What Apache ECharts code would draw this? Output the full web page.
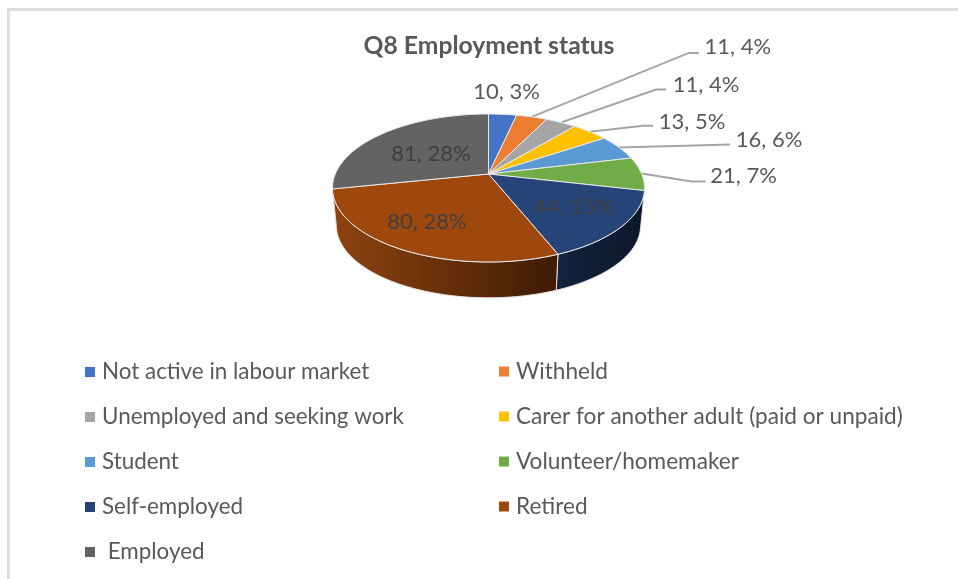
<!DOCTYPE html>
<html><head><meta charset="utf-8">
<style>html,body{margin:0;padding:0;background:#fff}#c{width:958px;height:579px}</style>
<script src="https://cdn.jsdelivr.net/npm/echarts@6/dist/echarts.min.js"></script>
</head><body><div id="c"></div>
<script>
const categories = ['Not active in labour market','Withheld','Unemployed and seeking work','Carer for another adult (paid or unpaid)','Student','Volunteer/homemaker','Self-employed','Retired',' Employed'];
const values = [10,11,11,13,16,21,44,80,81];
const colors = ['#4472C4','#ED7D31','#A5A5A5','#FFC000','#5B9BD5','#70AD47','#264478','#9E480E','#636363'];
const sideStops = [null,null,null,null,null,null,['#14233f','#0b1729'],['#8f4310','#3e1b04'],null];
// label offsets measured from each slice's rim midpoint; [dx,dy,elbowDx,elbowDy,endDx] (leader only if elbow given)
const labelOffsets = [
  [4,-22],
  [206,-70,157,-64,167],
  [145,-38,95,-33,105],
  [102,-10,53,-6,63],
  [150,-8,111,-3,111],
  [102,2,50,8,64],
  [-38,-35],
  [-5,-15],
  [50,-5]
];
const innerLabels = {6:[574,207],7:[427,222],8:[431,154]};

const total = values.reduce((a,b)=>a+b,0);
const CX=488.5, CY=174, R=153.2, A=71.35, K=0.189, DEPTH=38, S=0.975;
const TEXT='#595959', FONT='Lato';
function proj(deg, lower){
  const t=deg*Math.PI/180, u=Math.sin(t), v=-Math.cos(t), d=1-K*v;
  const x=R*u/d, y=A*v/d;
  return lower ? [CX+x*S, CY+DEPTH+y*S] : [CX+x, CY+y];
}
function arc(a0,a1,lower){
  const n=Math.max(2,Math.ceil(Math.abs(a1-a0)/1.5)), pts=[];
  for(let i=0;i<=n;i++) pts.push(proj(a0+(a1-a0)*i/n,lower));
  return pts;
}
let cum=0;
const starts=values.map(v=>{const s=cum;cum+=v;return s/total*360;});
function renderSlice(idx){
  return function(params,api){
    const v=api.value(0), a0=starts[idx], a1=a0+v/total*360, mid=(a0+a1)/2;
    const children=[];
    const top=[[CX,CY]].concat(arc(a0,a1,false));
    const side=arc(a0,a1,false).concat(arc(a1,a0,true));
    const st=sideStops[idx];
    const fill= st ? new echarts.graphic.LinearGradient(0,0,1,0,[{offset:0,color:st[0]},{offset:1,color:st[1]}]) : colors[idx];
    if(st){
      children.push({type:'polygon',z2:1,shape:{points:side},style:{fill:fill,stroke:'#e4e0dc',lineWidth:1}});
    }
    children.push({type:'polygon',z2:5,shape:{points:top},style:{fill:colors[idx],stroke:'#e9e9e9',lineWidth:1,lineJoin:'round'}});
    const o=labelOffsets[idx], rim=proj(mid,false);
    const label = v+', '+Math.round(v/total*100)+'%';
    const inner=innerLabels[idx];
    const lx= inner?inner[0]:rim[0]+o[0], ly= inner?inner[1]:rim[1]+o[1];
    if(o.length>2){
      children.push({type:'polyline',z2:3,shape:{points:[rim,[rim[0]+o[2],rim[1]+o[3]],[rim[0]+o[4],rim[1]+o[3]]]},style:{fill:null,stroke:'#A5A5A5',lineWidth:2}});
    }
    children.push({type:'text',z2:10,style:{x:lx,y:ly,text:label,fill:inner?'#404040':TEXT,font:'22px '+FONT,textAlign:'center',textVerticalAlign:'middle'}});
    return {type:'group',children:children};
  };
}
const series=categories.map((name,i)=>({
  type:'custom',name:name,coordinateSystem:'none',silent:true,animation:false,
  itemStyle:{color:colors[i]},renderItem:renderSlice(i),data:[[values[i]]]
}));
const legendBase={orient:'vertical',itemWidth:10,itemHeight:10,icon:'rect',selectedMode:false,padding:0};
const legendText=size=>({color:TEXT,fontFamily:FONT,fontSize:size,lineHeight:22,padding:[0,0,0,2]});
const chart=echarts.init(document.getElementById('c'),null,{renderer:'canvas'});
chart.setOption({
  backgroundColor:'#fff',animation:false,
  title:{text:'Q8 Employment status',left:484,top:29,textAlign:'center',textStyle:{color:TEXT,fontFamily:FONT,fontSize:24.7,fontWeight:'bold'}},
  legend:[
    Object.assign({},legendBase,{left:85,top:361,itemGap:23,textStyle:legendText(22.4),data:categories.filter((c,i)=>i%2===0)}),
    Object.assign({},legendBase,{left:499,top:360,itemGap:22,textStyle:legendText(22.6),data:categories.filter((c,i)=>i%2===1)})
  ],
  graphic:[
    {type:'rect',shape:{x:8.5,y:9.5,width:1000,height:600},style:{fill:null,stroke:'#DDDDDD',lineWidth:3},silent:true}
  ],
  series:series
});
</script></body></html>
